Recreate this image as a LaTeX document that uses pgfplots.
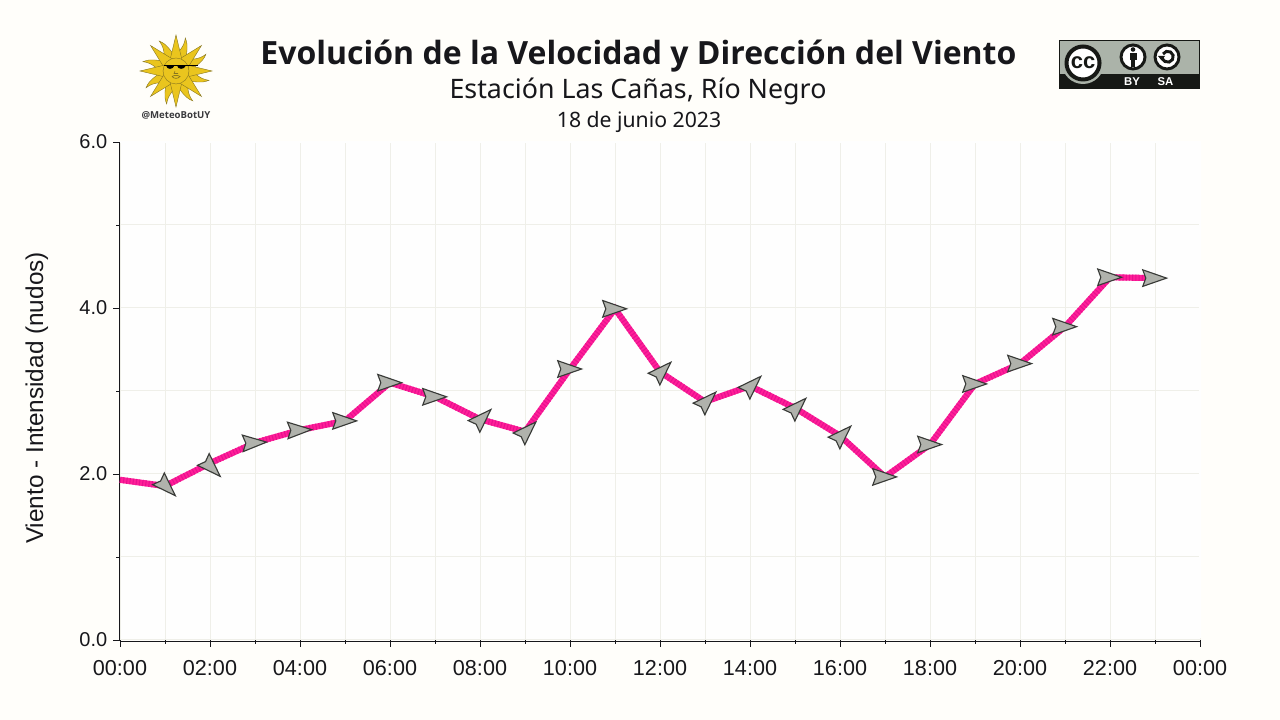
\documentclass[border=0pt]{standalone}
\usepackage{pgfplots}
\usepackage{fontspec}
\pgfplotsset{compat=1.18}
\setmainfont{Liberation Sans}
\newfontfamily\noto{Noto Sans}
\newfontfamily\notob{Open Sans}
\definecolor{paper}{HTML}{FFFEFA}
\definecolor{plotbg}{HTML}{FEFEFE}
\definecolor{gridc}{HTML}{EFEFE9}
\definecolor{inkc}{HTML}{17171B}
\definecolor{pinkl}{HTML}{FF1F98}
\definecolor{pinkd}{HTML}{E81090}
\definecolor{arrowg}{HTML}{B0B2AC}
\definecolor{suny}{HTML}{EAC51E}
\definecolor{sune}{HTML}{85741E}
\definecolor{ccg}{HTML}{ABB3A9}
\definecolor{ccb}{HTML}{161815}
\pgfdeclareplotmark{windarrow}{%
  \pgfpathmoveto{\pgfqpoint{8.7pt}{0pt}}%
  \pgfpathlineto{\pgfqpoint{-9.2pt}{6.2pt}}%
  \pgfpathlineto{\pgfqpoint{-6.9pt}{0pt}}%
  \pgfpathlineto{\pgfqpoint{-9.2pt}{-6.2pt}}%
  \pgfpathclose
  \pgfusepathqfillstroke}
\pgfplotstableread{
x y
0 1.93
1 1.855
2 2.13
3 2.377
4 2.53
5 2.64
6 3.10
7 2.93
8 2.66
9 2.51
10 3.265
11 3.99
12 3.23
13 2.87
14 3.06
15 2.795
16 2.46
17 1.965
18 2.355
19 3.085
20 3.33
21 3.775
22 4.37
23 4.36
}\speedtable
\pgfplotstableread{
x y ang dx dy
1 1.855 -45 1.6 -1.1
2 2.13 -45 1.5 -3.7
3 2.377 3 0 0
4 2.53 2 0 0
5 2.64 0 0 0
6 3.10 0 0 0
7 2.93 0 0 0
8 2.66 45 2 1.1
9 2.51 45 2 1.1
10 3.265 0 0 0
11 3.99 0 0 0
12 3.23 45 2 1.1
13 2.87 45 2 1.1
14 3.06 45 2 1.1
15 2.795 45 2 1.1
16 2.46 45 2 1.1
17 1.965 0 0 0
18 2.355 0 0 0
19 3.085 0 0 0
20 3.33 0 0 0
21 3.775 0 0 0
22 4.37 0 0 0
23 4.36 0 0 0
}\arrowtable
\begin{document}
\begin{tikzpicture}
\path[use as bounding box,fill=paper] (0,0) rectangle (960pt,540pt);
\begin{axis}[
  at={(90pt,60pt)},anchor=origin,
  scale only axis,width=810pt,height=373.5pt,
  xmin=0,xmax=24,ymin=0,ymax=6,
  axis y line*=left,axis x line*=bottom,
  axis line style={-,color=inkc,line width=0.65pt},
  x axis line style={yshift=-0.75pt},
  y axis line style={xshift=-0.5pt},
  axis background/.style={fill=plotbg},
  xtick={0,2,...,24},
  xticklabels={00:00,02:00,04:00,06:00,08:00,10:00,12:00,14:00,16:00,18:00,20:00,22:00,00:00},
  minor xtick={1,3,...,23},
  ytick={0,2,4,6},
  yticklabels={0.0,2.0,4.0,6.0},
  minor ytick={1,3,5},
  grid=both,
  grid style={gridc,line width=0.75pt},
  minor grid style={gridc,line width=0.75pt},
  tick align=outside,
  major tick length=5pt,minor tick length=3pt,
  tick style={color=inkc,line width=0.65pt},
  xticklabel style={font=\fontsize{16.2pt}{18pt}\selectfont,color=inkc,yshift=-7pt},
  yticklabel style={font=\fontsize{15pt}{18pt}\selectfont,color=inkc,xshift=-1.0pt},
  ylabel={Viento - Intensidad (nudos)},
  every axis y label/.style={at={(axis description cs:-0.0769,0.486)},rotate=90,anchor=center,font=\fontsize{18.25pt}{20pt}\selectfont,color=inkc},
  clip=false,
]
\draw[plotbg,line width=1.2pt] (axis cs:0,6) -- (axis cs:24,6) -- (axis cs:24,0.02);
\addplot[pinkl,line width=4.6pt,line join=miter] table[x=x,y=y] {\speedtable};
\addplot[pinkd,line width=4.6pt,dash pattern=on 0.8pt off 1.6pt] table[x=x,y=y] {\speedtable};
\addplot[
  scatter,only marks,
  mark=windarrow,
  visualization depends on={\thisrow{ang} \as \arrowang},
  visualization depends on={\thisrow{dx} \as \arrowdx},
  visualization depends on={\thisrow{dy} \as \arrowdy},
  scatter/@pre marker code/.code={\scope[shift={(\arrowdx pt,\arrowdy pt)},rotate=\arrowang,draw=ccb!85,fill=arrowg,line width=0.85pt]},
  scatter/@post marker code/.code={\endscope},
] table[x=x,y=y] {\arrowtable};
\end{axis}
\begin{scope}[shift={(0,540pt)},x=0.75pt,y=-0.75pt]
  \node[font=\notob\bfseries\fontsize{24pt}{28pt}\selectfont,color=inkc] at (638.5,56.5) {Evolución de la Velocidad y Dirección del Viento};
  \node[font=\noto\fontsize{20.1pt}{24pt}\selectfont,color=inkc] at (638,91) {Estación Las Cañas, Río Negro};
  \node[font=\noto\fontsize{15.9pt}{18pt}\selectfont,color=inkc] at (639,122) {18 de junio 2023};
  \node[font=\notob\bfseries\fontsize{7.2pt}{9pt}\selectfont,color=inkc!85] at (176,115.5) {@MeteoBotUY};
  % sun
  \begin{scope}[shift={(176,71)}]
    \foreach \a in {22.5,67.5,...,337.5} {
      \fill[suny,draw=sune,line width=0.3pt,rotate=\a] (11,-5) .. controls (19,-7) and (23,-1) .. (34,-4) .. controls (27,3) and (21,2) .. (11,6) -- cycle;
    }
    \foreach \a in {0,45,...,315} {
      \fill[suny,draw=sune,line width=0.3pt,rotate=\a] (11,-6) -- (36,0) -- (11,6) -- cycle;
    }
    \fill[suny,draw=sune,line width=0.3pt] (0,0) circle (13);
    \draw[black,line width=0.9pt] (-12,-5.5) -- (22,-5.5);
    \fill[black] (-10,-5.5) .. controls (-9,-1) and (-3,-1) .. (-1.5,-5.5) -- cycle;
    \fill[black] (1,-5.5) .. controls (2,-1) and (8,-1) .. (10,-5.5) -- cycle;
    \draw[sune,line width=0.5pt] (-4,5.5) .. controls (-2,4) and (2,4) .. (4,5.5) .. controls (2,8) and (-2,8) .. (-4,5.5);
    \draw[sune,line width=0.4pt] (-1,0) -- (-2,2.5) -- (2,2.5);
  \end{scope}
  % cc badge
  \fill[ccg,draw=ccb,line width=0.75pt] (1059.5,40.5) rectangle (1199.5,88.5);
  \fill[ccb] (1059.5,74) rectangle (1199.5,88.5);
  \fill[ccg] (1083,63) circle (21);
  \fill[white,draw=ccb,line width=3pt] (1083,63) circle (16.5);
  \node[font=\bfseries\fontsize{16.5pt}{16pt}\selectfont,color=ccb] at (1083,62.5) {cc};
  \fill[white,draw=ccb,line width=2.2pt] (1133,57) circle (12);
  \fill[ccb] (1133,49.5) circle (2.3);
  \fill[ccb] (1129.5,53) rectangle (1136.5,60.5);
  \fill[ccb] (1131.3,60.5) rectangle (1134.7,67);
  \fill[white,draw=ccb,line width=2.2pt] (1167,57) circle (12);
  \draw[ccb,line width=2.2pt] (1163,54) arc[start angle=-150,end angle=170,radius=5.5];
  \fill[ccb] (1158,56) -- (1165,56) -- (1161.5,60.5) -- cycle;
  \node[font=\bfseries\fontsize{8.5pt}{9pt}\selectfont,color=white] at (1132,82) {BY};
  \node[font=\bfseries\fontsize{8.5pt}{9pt}\selectfont,color=white] at (1165.5,82) {SA};
\end{scope}
\end{tikzpicture}
\end{document}
